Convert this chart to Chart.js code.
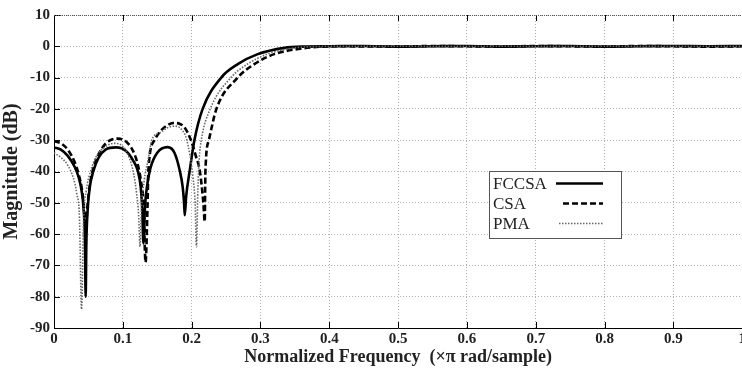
<!DOCTYPE html>
<html><head><meta charset="utf-8">
<style>html,body{margin:0;padding:0;background:#fff;overflow:hidden;}#wrap{width:748px;height:368px;}</style>
<script src="https://cdn.jsdelivr.net/npm/chart.js@4.4.1/dist/chart.umd.min.js"></script>
</head><body><div id="wrap"><canvas id="c" width="748" height="368"></canvas></div>
<script>
const seriesNames = ["FCCSA", "CSA", "PMA"];
const xTicks = [0, 0.1, 0.2, 0.3, 0.4, 0.5, 0.6, 0.7, 0.8, 0.9, 1];
const yTicks = [10, 0, -10, -20, -30, -40, -50, -60, -70, -80, -90];

const freqFCCSA = [0, 0.01, 0.02, 0.03, 0.036, 0.04, 0.043, 0.045, 0.046, 0.047, 0.049, 0.052, 0.057, 0.065, 0.075, 0.09, 0.105, 0.115, 0.122, 0.126, 0.128, 0.13, 0.132, 0.135, 0.14, 0.15, 0.165, 0.175, 0.183, 0.187, 0.189, 0.19, 0.192, 0.197, 0.204, 0.216, 0.243, 0.267, 0.296, 0.335, 0.36, 0.4, 0.45, 0.5, 0.55, 0.6, 0.65, 0.7, 0.75, 0.8, 0.85, 0.9, 0.95, 1];
const magFCCSA = [-32.3, -33, -35, -38.5, -42, -46, -52, -62, -80, -63, -52, -45, -40, -35.5, -33, -32.3, -33.5, -36.5, -40, -45, -51, -63, -52, -45, -39, -34, -32.2, -34, -40, -45, -50, -54, -48, -40, -30, -20, -10, -5.7, -2.5, -0.5, -0.1, 0, 0.1, -0.1, 0, 0.1, -0.1, 0, 0.1, -0.1, 0, 0.1, 0, 0.1];

const freqCSA = [0, 0.01, 0.02, 0.03, 0.036, 0.04, 0.043, 0.046, 0.049, 0.053, 0.06, 0.07, 0.08, 0.093, 0.105, 0.115, 0.122, 0.127, 0.13, 0.133, 0.136, 0.137, 0.146, 0.155, 0.165, 0.173, 0.183, 0.19, 0.199, 0.206, 0.212, 0.217, 0.219, 0.220, 0.225, 0.236, 0.267, 0.291, 0.32, 0.36, 0.39, 0.42, 0.5, 0.55, 0.6, 0.65, 0.7, 0.75, 0.8, 0.85, 0.9, 0.95, 1];
const magCSA = [-30.3, -31, -33, -37, -41, -45, -50, -58, -50, -43, -37, -32.5, -30.2, -29.5, -30.5, -33.5, -38, -44, -50, -69, -50, -40, -30, -27, -25.2, -24.5, -24.8, -26, -30, -35, -40, -50, -56, -40, -30, -20, -10, -5.7, -2.5, -0.7, -0.1, 0, -0.1, 0.1, 0, -0.1, 0.1, 0, -0.1, 0.1, 0, -0.1, 0];

const freqPMA = [0, 0.01, 0.02, 0.028, 0.033, 0.037, 0.04, 0.043, 0.047, 0.053, 0.062, 0.075, 0.088, 0.1, 0.11, 0.116, 0.12, 0.123, 0.125, 0.127, 0.131, 0.137, 0.142, 0.155, 0.165, 0.175, 0.185, 0.193, 0.202, 0.205, 0.207, 0.209, 0.211, 0.214, 0.227, 0.257, 0.281, 0.31, 0.35, 0.38, 0.41, 0.45, 0.5, 0.55, 0.6, 0.65, 0.7, 0.75, 0.8, 0.85, 0.9, 0.95, 1];
const magPMA = [-34, -35.5, -38, -42, -47, -55, -84, -55, -46, -40, -35, -32, -31, -32, -36, -41, -47, -54, -64, -52, -43, -36, -30, -27.5, -26, -25.5, -26.5, -30, -42, -50, -64, -46, -36, -30, -20, -10, -5.7, -2.5, -0.5, -0.1, 0, 0, 0, 0, 0, 0, 0, 0, 0, 0, 0, 0, 0];

const toPts = (xs, ys) => xs.map((x, i) => ({x: x, y: ys[i]}));
const styles = [
  {color: '#000', width: 2.6, dash: []},
  {color: '#000', width: 2.6, dash: [6, 3]},
  {color: '#666', width: 1.6, dash: [1.5, 1.5]}
];
const serif = "'Liberation Serif', 'DejaVu Serif', serif";

const extras = {
  id: 'extras',
  afterDraw(chart) {
    const ctx = chart.ctx, a = chart.chartArea;
    const xs = chart.scales.x, ys = chart.scales.y;
    ctx.save();
    ctx.strokeStyle = '#000'; ctx.lineWidth = 1;
    xTicks.forEach(v => {
      const p = Math.round(xs.getPixelForValue(v)) + 0.5;
      ctx.beginPath(); ctx.moveTo(p, a.bottom); ctx.lineTo(p, a.bottom - 6); ctx.stroke();
      ctx.beginPath(); ctx.moveTo(p, a.top); ctx.lineTo(p, a.top + 6); ctx.stroke();
    });
    yTicks.forEach(v => {
      const p = Math.round(ys.getPixelForValue(v)) + 0.5;
      ctx.beginPath(); ctx.moveTo(a.left, p); ctx.lineTo(a.left + 6, p); ctx.stroke();
    });
    ctx.strokeStyle = '#555';
    ctx.setLineDash([1, 1]);
    ctx.beginPath(); ctx.moveTo(a.left, a.top + 0.5); ctx.lineTo(a.right, a.top + 0.5); ctx.stroke();
    ctx.setLineDash([]);
    // legend
    const bx = 489, by = 171, bw = 132, bh = 67;
    ctx.fillStyle = '#fff'; ctx.fillRect(bx, by, bw, bh);
    ctx.strokeStyle = '#555'; ctx.lineWidth = 1;
    ctx.strokeRect(bx + 0.5, by + 0.5, bw, bh);
    ctx.font = "17px " + serif; ctx.fillStyle = '#222'; ctx.textBaseline = 'middle';
    const rows = [183.5, 203.5, 223.5];
    const starts = [556, 563, 559];
    seriesNames.forEach((n, i) => {
      ctx.fillText(n, 493, rows[i] + 1);
      ctx.strokeStyle = styles[i].color; ctx.lineWidth = styles[i].width;
      ctx.setLineDash(styles[i].dash);
      ctx.beginPath(); ctx.moveTo(starts[i], rows[i]); ctx.lineTo(603, rows[i]); ctx.stroke();
      ctx.setLineDash([]);
    });
    ctx.restore();
  }
};

new Chart(document.getElementById('c'), {
  type: 'line',
  data: {
    datasets: [
      {label: seriesNames[0], data: toPts(freqFCCSA, magFCCSA)},
      {label: seriesNames[1], data: toPts(freqCSA, magCSA)},
      {label: seriesNames[2], data: toPts(freqPMA, magPMA)}
    ].map((d, i) => Object.assign(d, {
      borderColor: styles[i].color, borderWidth: styles[i].width, borderDash: styles[i].dash,
      pointRadius: 0, fill: false, cubicInterpolationMode: 'monotone', tension: 0.4
    })).reverse()
  },
  options: {
    responsive: false, animation: false, devicePixelRatio: 1,
    layout: {padding: {top: 15, right: 5, left: 0, bottom: 0}},
    plugins: {legend: {display: false}, tooltip: {enabled: false}},
    scales: {
      x: {
        type: 'linear', min: 0, max: 1,
        afterBuildTicks: s => { s.ticks = xTicks.map(v => ({value: v})); },
        afterFit: s => { s.height = 40; },
        grid: {color: '#b0b0b0', lineWidth: 1, drawTicks: false},
        border: {display: true, color: '#000', width: 1, dash: [1, 2]},
        ticks: {color: '#222', padding: 2, maxRotation: 0, font: {family: serif, size: 15, weight: 'bold'},
                callback: v => String(v)},
        title: {display: true, text: 'Normalized Frequency  (×π rad/sample)', color: '#222',
                font: {family: serif, size: 18, weight: 'bold'}, padding: {top: 0, bottom: 0}}
      },
      y: {
        type: 'linear', min: -90, max: 10,
        afterBuildTicks: s => { s.ticks = yTicks.map(v => ({value: v})); },
        afterFit: s => { s.width = 54; },
        grid: {color: '#b0b0b0', lineWidth: 1, drawTicks: false},
        border: {display: true, color: '#000', width: 1, dash: [1, 2]},
        ticks: {color: '#222', padding: 4, font: {family: serif, size: 15, weight: 'bold'},
                callback: v => String(v)},
        title: {display: true, text: 'Magnitude (dB)', color: '#222',
                font: {family: serif, size: 20, weight: 'bold'}, padding: {top: 0, bottom: 1}}
      }
    }
  },
  plugins: [extras]
});
</script></body></html>
